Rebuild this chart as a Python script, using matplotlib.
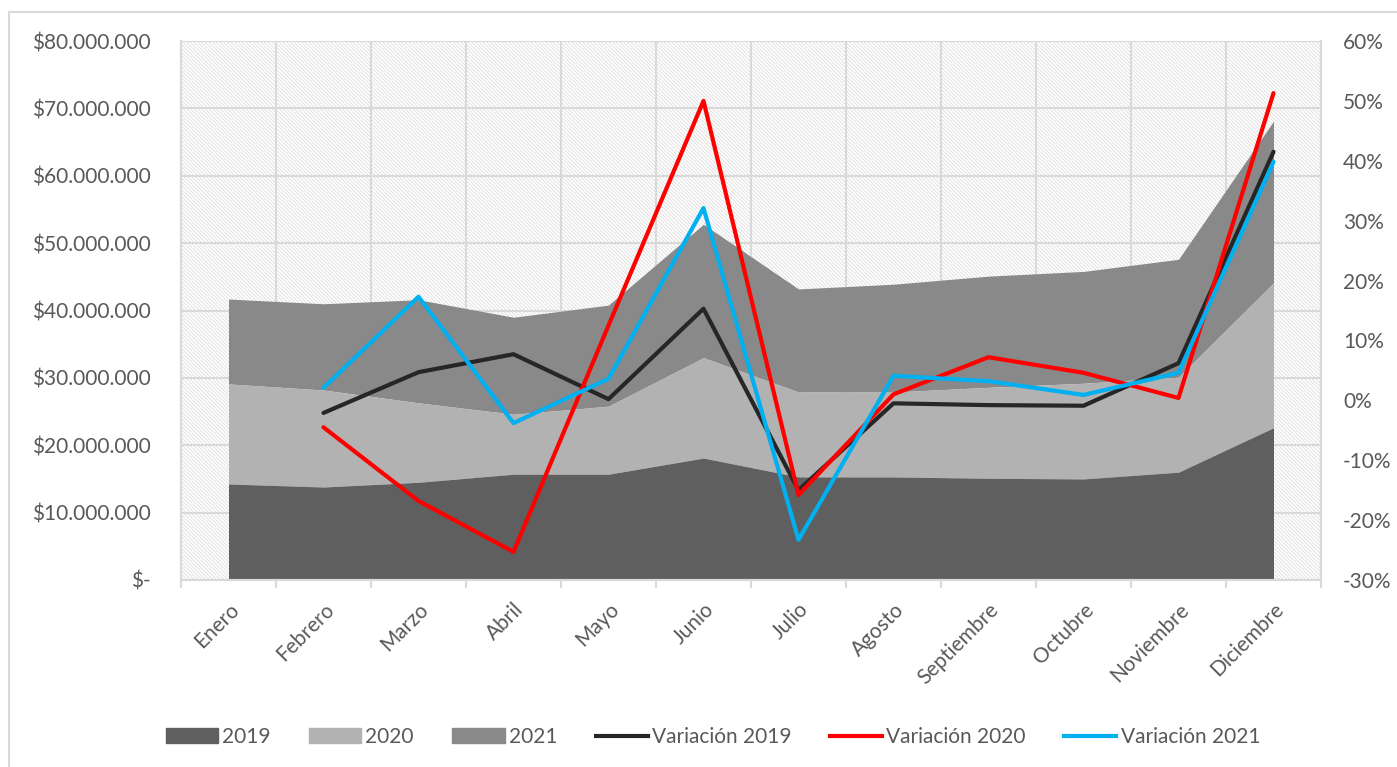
import numpy as np
import matplotlib
matplotlib.use("Agg")
import matplotlib.pyplot as plt
from matplotlib.patches import Rectangle
from matplotlib.lines import Line2D
from matplotlib.ticker import FuncFormatter, MultipleLocator

# Data
months = ["Enero", "Febrero", "Marzo", "Abril", "Mayo", "Junio", "Julio",
          "Agosto", "Septiembre", "Octubre", "Noviembre", "Diciembre"]

# monthly sales per year, millions (stacked in the chart)
sales_2019 = [14.25, 13.8, 14.5, 15.7, 15.7, 18.1, 15.3, 15.3, 15.1, 15.0, 16.0, 22.6]
sales_2020 = [14.85, 14.4, 11.8, 8.9, 10.1, 14.9, 12.6, 12.6, 13.5, 14.2, 14.1, 21.5]
sales_2021 = [12.6, 12.8, 15.3, 14.4, 15.0, 19.8, 15.3, 16.0, 16.5, 16.6, 17.5, 24.0]

# month-over-month variation, percent (no value for Enero)
var_2019 = [np.nan, -2.1, 4.7, 7.7, 0.2, 15.3, -15.0, -0.5, -0.8, -0.9, 6.2, 41.5]
var_2020 = [np.nan, -4.5, -16.8, -25.3, 12.5, 50.0, -15.8, 1.0, 7.2, 4.6, 0.4, 51.3]
var_2021 = [np.nan, 2.1, 17.3, -3.8, 3.6, 32.1, -23.3, 4.1, 3.2, 0.9, 4.6, 39.8]

FONT = ["Lato", "DejaVu Sans"]
TXT = "#595959"
GRID = "#d9d9d9"
FS = 15

plt.rcParams["font.family"] = FONT
plt.rcParams["hatch.linewidth"] = 0.6

fig = plt.figure(figsize=(13.97, 7.67), dpi=100)
W, H = 1397, 767
ax = fig.add_axes([181 / W, 1 - 580 / H, (1321 - 181) / W, (580 - 41) / H])
ax2 = ax.twinx()

x = np.arange(len(months))
m = 1e6
b1 = np.array(sales_2019) * m
b2 = b1 + np.array(sales_2020) * m
b3 = b2 + np.array(sales_2021) * m

# hatched plot background
ax.patch.set_facecolor("white")
ax.add_patch(Rectangle((0, 0), 1, 1, transform=ax.transAxes, facecolor="white",
                       edgecolor="#dcdcdc", hatch="\\" * 9, lw=0, zorder=0))

ax.fill_between(x, b2, b3, color="#898989", lw=0, zorder=2, label="2021")
ax.fill_between(x, b1, b2, color="#b2b2b2", lw=0, zorder=2, label="2020")
ax.fill_between(x, 0, b1, color="#5f5f5f", lw=0, zorder=2, label="2019")

ax.set_xlim(-0.5, len(months) - 0.5)
ax.set_ylim(0, 80e6)
ax.yaxis.set_major_locator(MultipleLocator(10e6))


def money(v, pos):
    if v == 0:
        return "$-"
    return "$" + f"{int(round(v)):,}".replace(",", ".")


ax.yaxis.set_major_formatter(FuncFormatter(money))
ax.set_xticks(x)
ax.set_xticklabels(months, rotation=45, ha="right", rotation_mode="anchor")
ax.set_xticks(np.arange(-0.5, len(months)), minor=True)
ax.tick_params(axis="x", which="major", length=0, pad=14, labelsize=FS, labelcolor=TXT)
ax.tick_params(axis="x", which="minor", length=6, width=1.5, color=GRID)
ax.tick_params(axis="y", length=0, pad=22, labelsize=FS, labelcolor=TXT)
ax.grid(axis="y", color=GRID, lw=1.5, zorder=1)
ax.grid(axis="x", which="minor", color=GRID, lw=1.5, zorder=1)
ax.set_axisbelow(True)

# variation lines
ax2.plot(x, var_2019, color="#262626", lw=3, solid_capstyle="round", zorder=3)
ax2.plot(x, var_2020, color="#ff0000", lw=3, solid_capstyle="round", zorder=3)
ax2.plot(x, var_2021, color="#00b0f0", lw=3, solid_capstyle="round", zorder=3)
ax2.set_ylim(-30, 60)
ax2.yaxis.set_major_locator(MultipleLocator(10))
ax2.yaxis.set_major_formatter(FuncFormatter(lambda v, p: f"{v:.0f}%"))
ax2.tick_params(axis="y", length=0, pad=16, labelsize=FS, labelcolor=TXT)

for a in (ax, ax2):
    a.spines["top"].set_visible(False)
    for s in ("left", "right", "bottom"):
        a.spines[s].set_color(GRID)
        a.spines[s].set_linewidth(1.5)

# legend
handles = [
    Rectangle((0, 0), 1, 1, color="#5f5f5f"),
    Rectangle((0, 0), 1, 1, color="#b2b2b2"),
    Rectangle((0, 0), 1, 1, color="#898989"),
    Line2D([], [], color="#262626", lw=3),
    Line2D([], [], color="#ff0000", lw=3),
    Line2D([], [], color="#00b0f0", lw=3),
]
labels = ["2019", "2020", "2021", "Variación 2019", "Variación 2020", "Variación 2021"]
leg = fig.legend(handles, labels, loc="center", bbox_to_anchor=(713 / W, 1 - 737 / H),
                 ncol=6, frameon=False, fontsize=FS, handlelength=2.5,
                 handletextpad=0.2, columnspacing=1.85)
for t in leg.get_texts():
    t.set_color(TXT)

# chart border
fig.add_artist(Line2D([9 / W, 9 / W], [0, 1 - 12 / H], color=GRID, lw=1.5))
fig.add_artist(Line2D([9 / W, 1], [1 - 12 / H, 1 - 12 / H], color=GRID, lw=1.5))

fig.savefig("out.png", dpi=100)
